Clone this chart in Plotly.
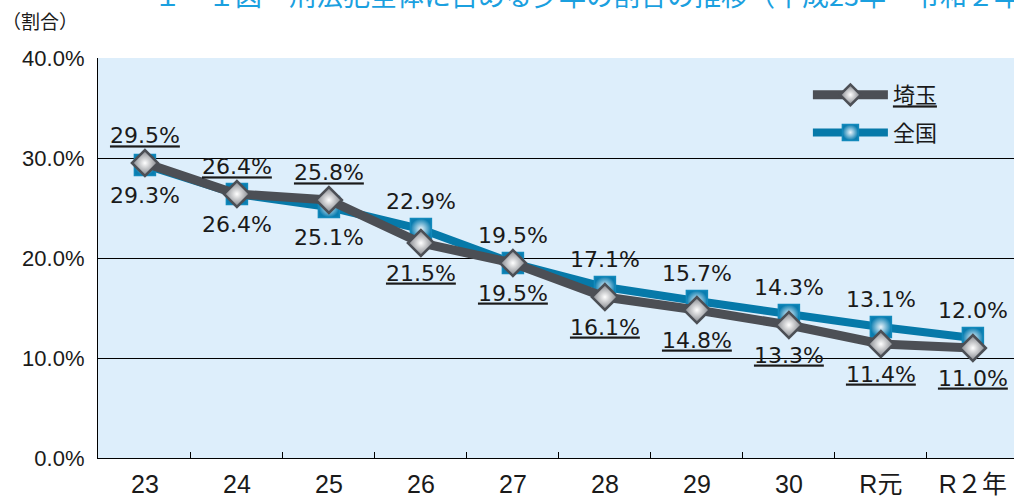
import plotly.graph_objects as go

years = ["23", "24", "25", "26", "27", "28", "29", "30", "R元", "R２年"]
saitama = [29.5, 26.4, 25.8, 21.5, 19.5, 16.1, 14.8, 13.3, 11.4, 11.0]
zenkoku = [29.3, 26.4, 25.1, 22.9, 19.5, 17.1, 15.7, 14.3, 13.1, 12.0]
saitama_pos = ["top center"] * 3 + ["bottom center"] * 7
zenkoku_pos = ["bottom center"] * 3 + ["top center"] * 7
y_ticks = [0, 10, 20, 30, 40]
y_labels = ["0.0%", "10.0%", "20.0%", "30.0%", "40.0%"]

title_text = "１－１図　刑法犯全体に占める少年の割合の推移（平成23年～令和２年）"

NUM_FONT = "DejaVu Sans, Noto Sans CJK JP"
JP_FONT = "Noto Sans CJK JP, Noto Sans"


def pad_sizes(positions):
    # invisible marker sizes only used to space the value labels from the points
    return [21 if p.startswith("top") else 32 for p in positions]


fig = go.Figure()

fig.add_trace(go.Scatter(
    x=years, y=zenkoku, name="全国", mode="lines+markers",
    line=dict(color="#0679a9", width=8),
    marker=dict(symbol="square", size=21, color="#0a7db0",
                gradient=dict(type="radial", color="#eaf4fb"),
                line=dict(color="#1289bb", width=1.5)),
    legendgroup="b", legendrank=2, cliponaxis=False, hoverinfo="skip",
))

fig.add_trace(go.Scatter(
    x=years, y=saitama, name="<u>埼玉</u>", mode="lines+markers",
    line=dict(color="#4c4f55", width=9),
    marker=dict(symbol="diamond", size=20, color="#7d8086",
                gradient=dict(type="radial", color="#ffffff"),
                line=dict(color="#4c4f55", width=2.5)),
    legendgroup="a", legendrank=1, cliponaxis=False, hoverinfo="skip",
))

# value labels
fig.add_trace(go.Scatter(
    x=years, y=zenkoku, mode="markers+text", showlegend=False,
    marker=dict(size=pad_sizes(zenkoku_pos), color="rgba(0,0,0,0)",
                line=dict(width=0)),
    text=[f"{v:.1f}%" for v in zenkoku], textposition=zenkoku_pos,
    textfont=dict(family=NUM_FONT, size=22, color="#1a1a1a"),
    cliponaxis=False, hoverinfo="skip",
))
fig.add_trace(go.Scatter(
    x=years, y=saitama, mode="markers+text", showlegend=False,
    marker=dict(size=pad_sizes(saitama_pos), color="rgba(0,0,0,0)",
                line=dict(width=0)),
    text=[f"<u>{v:.1f}%</u>" for v in saitama], textposition=saitama_pos,
    textfont=dict(family=NUM_FONT, size=22, color="#1a1a1a"),
    cliponaxis=False, hoverinfo="skip",
))

fig.update_layout(
    width=1014, height=497, autosize=False,
    margin=dict(l=98, r=0, t=58, b=39, autoexpand=False),
    paper_bgcolor="white", plot_bgcolor="#ddeefb",
    showlegend=True,
    legend=dict(x=0.775, y=0.96, xanchor="left", yanchor="top",
                bgcolor="rgba(0,0,0,0)", font=dict(family=JP_FONT, size=22, color="#1a1a1a"),
                itemwidth=75, tracegroupgap=6, itemsizing="trace"),
    xaxis=dict(type="category", categoryorder="array", categoryarray=years,
               range=[-0.51, 9.447], showgrid=False, showline=True,
               linecolor="black", linewidth=1.2, ticks="inside", ticklen=6,
               tickcolor="black", tickson="boundaries", ticklabelstandoff=4,
               tickfont=dict(family="Liberation Sans, Noto Sans CJK JP", size=25, color="#1a1a1a"),
               automargin=False, fixedrange=True),
    yaxis=dict(range=[0, 40], tickvals=y_ticks, ticktext=y_labels,
               showgrid=True, gridcolor="black", gridwidth=1,
               showline=True, linecolor="black", linewidth=1.2, ticks="",
               zeroline=False, ticklabelstandoff=8,
               tickfont=dict(family="Liberation Sans, Noto Sans CJK JP", size=22, color="#1a1a1a"),
               automargin=False, fixedrange=True),
    annotations=[
        dict(text="（割合）", xref="paper", yref="paper", x=-0.107, y=1.095,
             xanchor="left", yanchor="middle", showarrow=False,
             font=dict(family=JP_FONT, size=19, color="#1a1a1a")),
        dict(text=title_text, xref="paper", yref="paper", x=0.059, y=1.158,
             xanchor="left", yanchor="middle", showarrow=False,
             font=dict(family=JP_FONT, size=27, color="#1ba0df")),
    ],
)

fig.write_html(
    "out.html",
    config={"displayModeBar": False},
    post_script="document.body.style.margin='0';document.body.style.overflow='hidden';",
)
